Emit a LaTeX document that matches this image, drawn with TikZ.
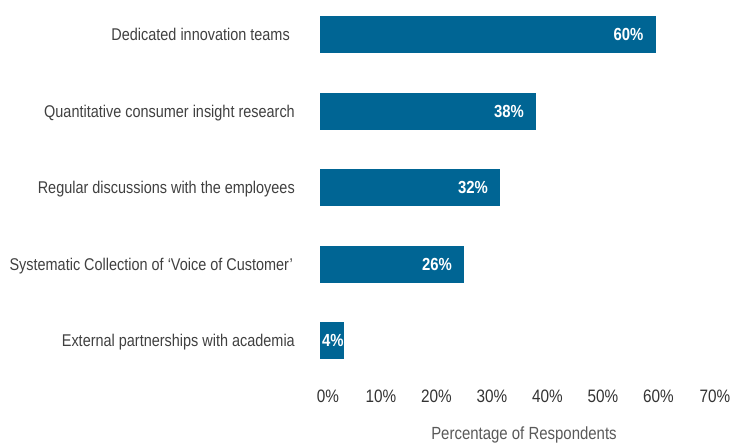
\documentclass[tikz,border=0pt]{standalone}
\usepackage{fontspec}
\setmainfont{Liberation Sans}[FakeStretch=0.85]
\usetikzlibrary{positioning}
\begin{document}
\begin{tikzpicture}[x=1pt, y=-1pt]
    % Define chart colour palette
    \definecolor{barblue}{RGB}{0,101,148}
    \definecolor{labelgray}{RGB}{64,64,64}
    \definecolor{tickgray}{RGB}{51,51,51}
    \definecolor{titlegray}{RGB}{89,89,89}

    % Define chart styles
    \tikzset{
        bar/.style={
            fill=barblue,
            anchor=west,
            minimum height=37pt,
            inner sep=0pt,
            outer sep=0pt
        },
        category/.style={
            text=labelgray,
            font=\fontsize{17}{20}\selectfont,
            text height=12.2pt,
            text depth=0pt,
            inner sep=0pt
        },
        value/.style={
            text=white,
            font=\fontsize{17.5}{20}\selectfont\bfseries,
            text height=12.5pt,
            text depth=0pt,
            inner sep=0pt
        },
        tick/.style={
            text=tickgray,
            font=\fontsize{18}{20}\selectfont,
            text height=12.9pt,
            text depth=0pt,
            inner sep=0pt
        },
        axistitle/.style={
            text=titlegray,
            font=\fontsize{17.6}{20}\selectfont,
            text height=12.6pt,
            text depth=0pt,
            inner sep=0pt,
            anchor=north
        }
    }

    \useasboundingbox (0,0) rectangle (732,444);

    % Bars
    \node[bar, minimum width=336pt] (teams) at (320,34.5) {};
    \node[bar, minimum width=216pt] (research) at (320,111.5) {};
    \node[bar, minimum width=180pt] (employees) at (320,187.5) {};
    \node[bar, minimum width=144pt] (customer) at (320,264.5) {};
    \node[bar, minimum width=23.7pt] (academia) at (320,340.5) {};

    % Category labels (left side)
    \node[category, left=30pt of teams.west] (l_teams) {Dedicated innovation teams};
    \node[category, left=25pt of research.west] (l_research) {Quantitative consumer insight research};
    \node[category, left=25pt of employees.west] (l_employees) {Regular discussions with the employees};
    \node[category, left=27pt of customer.west] (l_customer) {Systematic Collection of ‘Voice of Customer’};
    \node[category, left=25pt of academia.west] (l_academia) {External partnerships with academia};

    % Values inside the bars
    \node[value, left=12.5pt of teams.east] (v_teams) {60\%};
    \node[value, left=12pt of research.east] (v_research) {38\%};
    \node[value, left=12pt of employees.east] (v_employees) {32\%};
    \node[value, left=12pt of customer.east] (v_customer) {26\%};
    \node[value, right=2pt of academia.west] (v_academia) {4\%};

    % Axis tick labels
    \node[tick] (t0) at (328,396) {0\%};
    \node[tick] (t10) at (381,396) {10\%};
    \node[tick] (t20) at (436.5,396) {20\%};
    \node[tick] (t30) at (492,396) {30\%};
    \node[tick] (t40) at (547.5,396) {40\%};
    \node[tick] (t50) at (603,396) {50\%};
    \node[tick] (t60) at (658.5,396) {60\%};
    \node[tick] (t70) at (715,396) {70\%};

    % Axis title
    \node[axistitle] (title) at (524,426.5) {Percentage of Respondents};

\end{tikzpicture}
\end{document}
